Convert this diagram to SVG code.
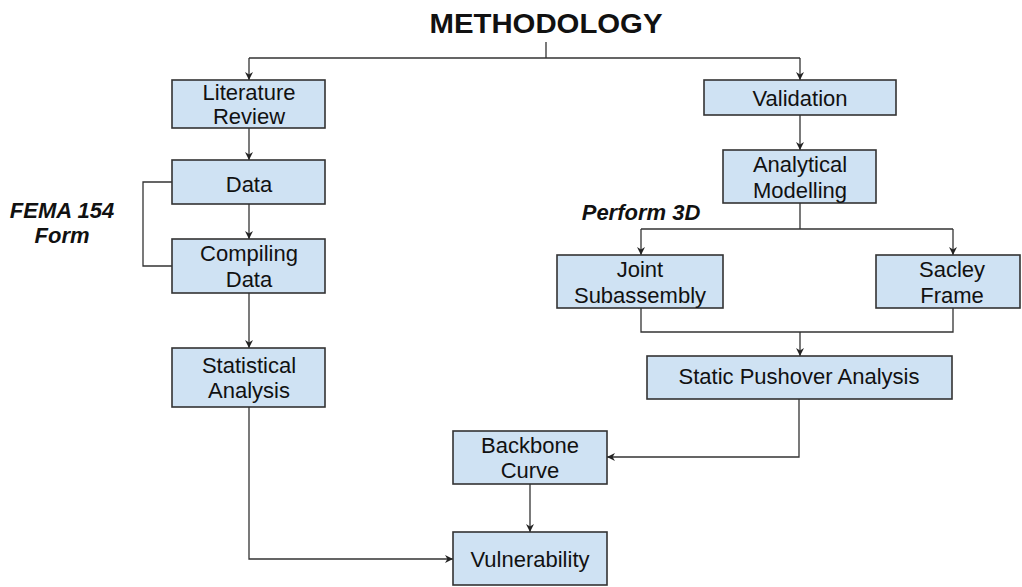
<svg xmlns="http://www.w3.org/2000/svg" width="1022" height="587" viewBox="0 0 1022 587">
<defs>
<marker id="arr" viewBox="0 0 10 10" refX="10" refY="5" markerWidth="8" markerHeight="8" markerUnits="userSpaceOnUse" orient="auto">
<path d="M0,0 L10,5 L0,10 L3,5 z" fill="#222"/>
</marker>
<style>
.box{fill:#cfe2f3;stroke:#333;stroke-width:1.6}
.t{font-family:"Liberation Sans",Arial,sans-serif;font-size:22px;fill:#111;text-anchor:middle}
.lbl{font-family:"Liberation Sans",Arial,sans-serif;font-size:22px;font-weight:bold;font-style:italic;fill:#111;text-anchor:middle}
.c{fill:none;stroke:#333;stroke-width:1.3}
</style>
</defs>
<rect width="1022" height="587" fill="#fff"/>
<text x="546" y="33" font-family="'Liberation Sans',Arial,sans-serif" font-size="28" font-weight="bold" text-anchor="middle" fill="#111" textLength="233" lengthAdjust="spacingAndGlyphs">METHODOLOGY</text>

<g id="connectors">
<path class="c" d="M546,42 V58 M249,58 H800"/>
<path class="c" d="M249,58 V80" marker-end="url(#arr)"/>
<path class="c" d="M800,58 V80" marker-end="url(#arr)"/>
<path class="c" d="M249,128 V160" marker-end="url(#arr)"/>
<path class="c" d="M249,204 V239" marker-end="url(#arr)"/>
<path class="c" d="M172,182 H143 V266 H172"/>
<path class="c" d="M249,293 V348" marker-end="url(#arr)"/>
<path class="c" d="M249,407 V559 H453" marker-end="url(#arr)"/>
<path class="c" d="M800,115 V150" marker-end="url(#arr)"/>
<path class="c" d="M800,203 V229 M641,229 H953"/>
<path class="c" d="M641,229 V255" marker-end="url(#arr)"/>
<path class="c" d="M953,229 V255" marker-end="url(#arr)"/>
<path class="c" d="M641,308 V332 H953 V308"/>
<path class="c" d="M800,332 V356" marker-end="url(#arr)"/>
<path class="c" d="M799,399 V457 H607" marker-end="url(#arr)"/>
<path class="c" d="M530,484 V532" marker-end="url(#arr)"/>
</g>

<g id="label-fema">
<text class="lbl" x="62" y="218">FEMA 154</text>
<text class="lbl" x="62" y="243">Form</text>
</g>
<g id="label-perform">
<text class="lbl" x="641" y="220">Perform 3D</text>
</g>

<g id="literature-review">
<rect class="box" x="172" y="80" width="153" height="48"/>
<text class="t" x="249" y="100">Literature</text>
<text class="t" x="249" y="124">Review</text>
</g>
<g id="data">
<rect class="box" x="172" y="160" width="153" height="44"/>
<text class="t" x="249" y="192">Data</text>
</g>
<g id="compiling-data">
<rect class="box" x="172" y="239" width="153" height="54"/>
<text class="t" x="249" y="261">Compiling</text>
<text class="t" x="249" y="287">Data</text>
</g>
<g id="statistical-analysis">
<rect class="box" x="172" y="348" width="153" height="59"/>
<text class="t" x="249" y="373">Statistical</text>
<text class="t" x="249" y="398">Analysis</text>
</g>
<g id="validation">
<rect class="box" x="704" y="80" width="192" height="35"/>
<text class="t" x="800" y="106">Validation</text>
</g>
<g id="analytical-modelling">
<rect class="box" x="723" y="150" width="153" height="53"/>
<text class="t" x="800" y="172">Analytical</text>
<text class="t" x="800" y="198">Modelling</text>
</g>
<g id="joint-subassembly">
<rect class="box" x="557" y="255" width="166" height="53"/>
<text class="t" x="640" y="277">Joint</text>
<text class="t" x="640" y="303">Subassembly</text>
</g>
<g id="sacley-frame">
<rect class="box" x="876" y="255" width="144" height="53"/>
<text class="t" x="952" y="277">Sacley</text>
<text class="t" x="952" y="303">Frame</text>
</g>
<g id="static-pushover">
<rect class="box" x="647" y="356" width="305" height="43"/>
<text class="t" x="799" y="384">Static Pushover Analysis</text>
</g>
<g id="backbone-curve">
<rect class="box" x="453" y="431" width="154" height="53"/>
<text class="t" x="530" y="453">Backbone</text>
<text class="t" x="530" y="478">Curve</text>
</g>
<g id="vulnerability">
<rect class="box" x="453" y="532" width="154" height="53"/>
<text class="t" x="530" y="567">Vulnerability</text>
</g>
</svg>
